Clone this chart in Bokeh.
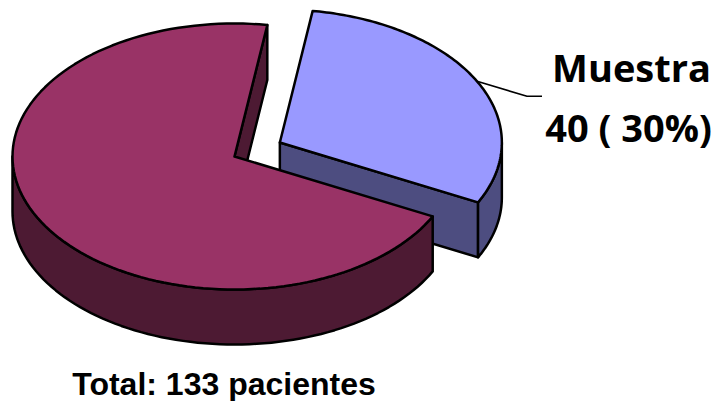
import math

from bokeh.core.properties import value
from bokeh.embed import file_html
from bokeh.models import Range1d
from bokeh.plotting import figure
from bokeh.resources import INLINE

# Data
categories = ["Otros", "Muestra"]
counts = [93, 40]
top_colors = ["#993366", "#9999FF"]
side_colors = ["#4D1A33", "#4D4D80"]
total = sum(counts)

# 3D pie geometry (screen units, y grows downward)
cx, cy = 234.0, 156.0      # centre of the top face
rx, ry = 222.0, 133.0      # ellipse radii of the top face
depth = 55.0               # thickness of the disc
start_deg = -81.5          # where the "Muestra" slice starts (clockwise on screen)
explode = {"Muestra": 0.23}

p = figure(width=720, height=401, output_backend="svg", toolbar_location=None,
           x_range=Range1d(0, 720), y_range=Range1d(401, 0),
           min_border=0, outline_line_color=None)
p.axis.visible = False
p.grid.visible = False
p.background_fill_color = "white"
p.border_fill_color = "white"


def arc(x0, y0, a0, a1, dy=0.0, n=80):
    xs, ys = [], []
    for i in range(n + 1):
        t = math.radians(a0 + (a1 - a0) * i / n)
        xs.append(x0 + rx * math.cos(t))
        ys.append(y0 + ry * math.sin(t) + dy)
    return xs, ys


# slice angles: "Muestra" first from start_deg, the rest follows clockwise
order = [1, 0]
slices = {}
a = start_deg
for idx in order:
    span = counts[idx] / total * 360.0
    slices[idx] = (a, a + span)
    a += span

faces = []  # (xs, ys, fill) in drawing order
label_anchor = None
for idx in order:  # exploded slice sits behind, draw it first
    a0, a1 = slices[idx]
    mid = math.radians((a0 + a1) / 2)
    e = explode.get(categories[idx], 0.0)
    ox = cx + e * rx * math.cos(mid)
    oy = cy + e * ry * math.sin(mid)

    # radial walls that face the viewer
    for ang, normal in ((a0, a0 - 90), (a1, a1 + 90)):
        if math.sin(math.radians(normal)) > 0:
            t = math.radians(ang)
            ex, ey = ox + rx * math.cos(t), oy + ry * math.sin(t)
            faces.append(([ox, ex, ex, ox], [oy, ey, ey + depth, oy + depth],
                          side_colors[idx]))

    # outer curved wall on the front half of the ellipse
    for base in (-360, 0, 360):
        lo, hi = max(a0, base), min(a1, base + 180)
        if hi > lo:
            tx, ty = arc(ox, oy, lo, hi)
            bx, by = arc(ox, oy, hi, lo, dy=depth)
            faces.append((tx + bx, ty + by, side_colors[idx]))

    # top face
    tx, ty = arc(ox, oy, a0, a1, n=120)
    faces.append(([ox] + tx, [oy] + ty, top_colors[idx]))

    if categories[idx] == "Muestra":
        label_anchor = (ox + rx * math.cos(mid), oy + ry * math.sin(mid))

p.patches(xs=[f[0] for f in faces], ys=[f[1] for f in faces],
          fill_color=[f[2] for f in faces], line_color="black",
          line_width=2.5, line_join="round")

# leader line for the label
lx, ly = label_anchor
p.line(x=[lx, lx + 50, lx + 65], y=[ly, ly + 15, ly + 15],
       line_color="black", line_width=1.6)

m = categories.index("Muestra")
pct = round(counts[m] / total * 100)
p.text(x=[631], y=[66], text=[categories[m]], text_align="center",
       text_baseline="middle", text_font=value("Open Sans"),
       text_font_style="bold", text_font_size="38px", text_color="black")
p.text(x=[628], y=[126], text=[f"{counts[m]} ( {pct}%)"], text_align="center",
       text_baseline="middle", text_font=value("Open Sans"),
       text_font_style="bold", text_font_size="38px", text_color="black")

p.text(x=[223.5], y=[383], text=[f"Total: {total} pacientes"],
       text_align="center", text_baseline="middle",
       text_font=value("Liberation Sans"), text_font_style="bold",
       text_font_size="32px", text_color="black")

open("out.html", "w").write(file_html(p, INLINE))
